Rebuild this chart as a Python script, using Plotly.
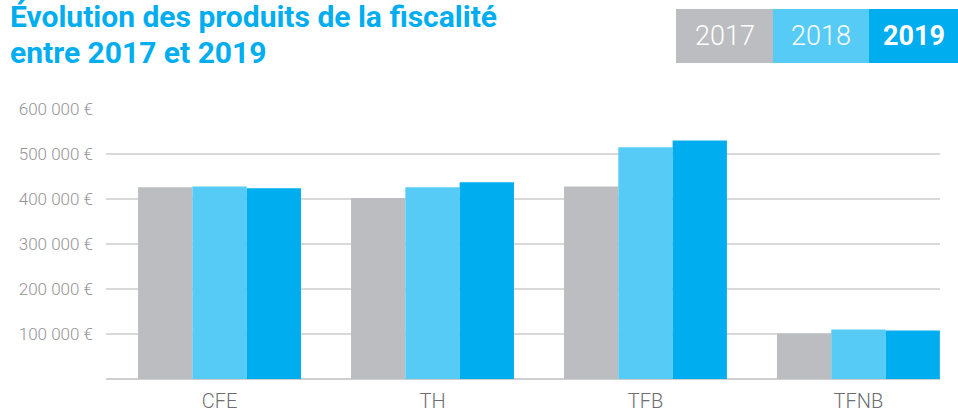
import plotly.graph_objects as go

categories = ["CFE", "TH", "TFB", "TFNB"]
years = ["2017", "2018", "2019"]
values_2017 = [426000, 402000, 428000, 101000]
values_2018 = [428000, 426000, 515000, 110000]
values_2019 = [424000, 437000, 530000, 108000]
y_tickvals = [100000, 200000, 300000, 400000, 500000, 600000]
y_ticktext = ["100 000 €", "200 000 €", "300 000 €", "400 000 €", "500 000 €", "600 000 €"]
title_lines = ["Évolution des produits de la fiscalité", "entre 2017 et 2019"]

colors = ["#bcbdc1", "#56cbf5", "#00aeef"]
series = [values_2017, values_2018, values_2019]

fig = go.Figure()
for yr, vals, col in zip(years, series, colors):
    fig.add_trace(go.Bar(x=categories, y=vals, name=yr, marker=dict(color=col, line=dict(width=0)),
                         showlegend=False, hoverinfo="skip"))

fig.update_layout(
    width=958, height=414,
    margin=dict(l=106, r=18, t=109, b=35),
    paper_bgcolor="white", plot_bgcolor="white",
    barmode="group", bargap=0.235, bargroupgap=0,
    font=dict(family="Roboto", color="#8a8a8d"),
    xaxis=dict(type="category", range=[-0.533, 3.383], showgrid=False, showline=False,
               ticks="", tickfont=dict(size=20, color="#6d6e71", weight=300), ticklabelstandoff=8,
               automargin=False),
    yaxis=dict(range=[0, 600000], tickvals=y_tickvals, ticktext=y_ticktext,
               showgrid=True, gridcolor="#d9d9da", gridwidth=2,
               zeroline=True, zerolinecolor="#cfcfd0", zerolinewidth=2,
               showline=False, ticks="", ticklabelstandoff=12, automargin=False,
               tickfont=dict(size=17, color="#949496", weight=300)),
)

# title lines
for i, line in enumerate(title_lines):
    fig.add_annotation(xref="paper", yref="paper", x=(8 - 106) / 834, y=(379 - (17 + 36 * i)) / 270,
                       xanchor="left", yanchor="middle", align="left", showarrow=False,
                       text="<b>%s</b>" % line,
                       font=dict(family="Roboto", size=30, color="#00aeef", weight=700))

# legend boxes
box_edges = [676, 773, 869, 958]
for i, (yr, col) in enumerate(zip(years, colors)):
    x0, x1 = box_edges[i], box_edges[i + 1]
    fig.add_shape(type="rect", xref="paper", yref="paper",
                  x0=(x0 - 106) / 834, x1=(x1 - 106) / 834,
                  y0=(379 - 63) / 270, y1=(379 - 9) / 270,
                  fillcolor=col, line=dict(width=0), layer="above")
    fig.add_annotation(xref="paper", yref="paper", x=((x0 + x1) / 2 - 106) / 834,
                       y=(379 - 36) / 270, xanchor="center", yanchor="middle",
                       showarrow=False, text=yr,
                       font=dict(family="Roboto", size=27, color="white",
                                 weight=700 if i == 2 else 300))

fig.write_html("out.html", config={"displayModeBar": False},
               post_script="document.body.style.margin='0';document.body.style.overflow='hidden';")
